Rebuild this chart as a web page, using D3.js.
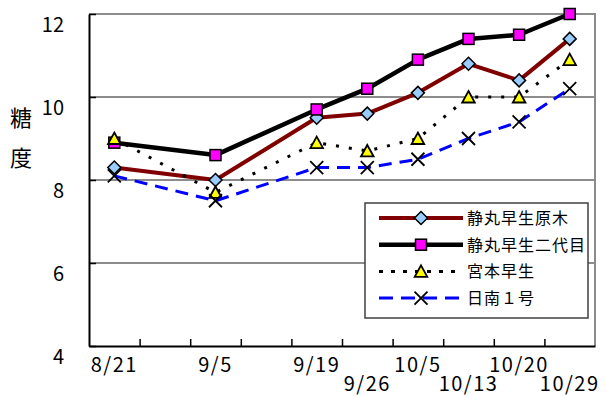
<!DOCTYPE html>
<html>
<head>
<meta charset="utf-8">
<script src="https://cdn.jsdelivr.net/npm/d3@7"></script>
<style>
  html, body { margin: 0; padding: 0; background: #fff; }
  svg { display: block; }
  text { font-family: "Noto Sans CJK JP", "Noto Sans", sans-serif; fill: #000; }
</style>
</head>
<body>
<svg id="chart" width="606" height="397"></svg>
<script>
// Sampling dates (empty slots keep the spacing of the category axis)
const slots = ["8/21", "", "9/5", "", "9/19", "9/26", "10/5", "10/13", "10/20", "10/29"];

// Sugar content (Brix) per variety
const genbokuValues  = [8.3, null, 8.0, null, 9.5, 9.6, 10.1, 10.8, 10.4, 11.4];
const nidaimeValues  = [8.9, null, 8.6, null, 9.7, 10.2, 10.9, 11.4, 11.5, 12.0];
const miyamotoValues = [9.0, null, 7.7, null, 8.9, 8.7, 9.0, 10.0, 10.0, 10.9];
const nichinanValues = [8.1, null, 7.5, null, 8.3, 8.3, 8.5, 9.0, 9.4, 10.2];

const seriesNames = ["静丸早生原木", "静丸早生二代目", "宮本早生", "日南１号"];
const yTicks = [4, 6, 8, 10, 12];
const yTitle = ["糖", "度"];

const svg = d3.select("#chart");
const plot = { left: 89, top: 14, right: 595, bottom: 346 };

const x = d3.scaleBand()
  .domain(d3.range(slots.length))
  .range([plot.left, plot.right])
  .paddingInner(0).paddingOuter(0);
const xEdge = d3.scaleLinear().domain([0, slots.length]).range([plot.left, plot.right]);
const y = d3.scaleLinear().domain([4, 12]).range([plot.bottom, plot.top]);

// Horizontal gridlines
svg.append("g")
  .selectAll("line")
  .data(yTicks.filter(v => v > 4 && v < 12))
  .join("line")
  .attr("x1", plot.left).attr("x2", plot.right)
  .attr("y1", d => y(d)).attr("y2", d => y(d))
  .attr("stroke", "#666").attr("stroke-width", 1.5);

// Top and right frame
svg.append("path")
  .attr("d", `M${plot.left},${y(12)}H${plot.right}V${plot.bottom}`)
  .attr("fill", "none").attr("stroke", "#8c8c8c").attr("stroke-width", 2);

// Y axis with inward ticks
const yAxis = svg.append("g")
  .attr("transform", `translate(${plot.left},0)`)
  .call(d3.axisLeft(y).tickValues(yTicks).tickSizeInner(-7).tickSizeOuter(0).tickPadding(25).tickFormat(d3.format("d")));
yAxis.select(".domain").attr("stroke", "#000").attr("stroke-width", 2);
yAxis.selectAll(".tick line").attr("stroke", "#000").attr("stroke-width", 1.5);
yAxis.selectAll(".tick text")
  .attr("dy", "17px")
  .style("font-size", "20px")
  .style("font-family", "'Noto Sans CJK JP', sans-serif");

// X axis: tick marks on category boundaries
const xTicks = svg.append("g")
  .attr("transform", `translate(0,${plot.bottom})`)
  .call(d3.axisBottom(xEdge).tickValues(d3.range(1, slots.length)).tickSizeInner(-7).tickSizeOuter(0).tickFormat(""));
xTicks.select(".domain").attr("stroke", "#000").attr("stroke-width", 2);
xTicks.selectAll(".tick line").attr("stroke", "#000").attr("stroke-width", 1.5);

// X axis labels, staggered on two rows
const xLabels = svg.append("g")
  .attr("transform", `translate(0,${plot.bottom})`)
  .call(d3.axisBottom(x).tickSize(0).tickPadding(0).tickFormat(i => slots[i]));
xLabels.select(".domain").remove();
xLabels.selectAll(".tick text")
  .attr("y", i => (i % 2 === 0 ? 26 : 45))
  .attr("dy", 0)
  .style("font-size", "20px")
  .style("letter-spacing", "1.5px")
  .style("font-family", "'Noto Sans CJK JP', sans-serif");

// Y axis title, stacked vertically
svg.append("g")
  .selectAll("text")
  .data(yTitle)
  .join("text")
  .attr("x", 21)
  .attr("y", (d, i) => 126 + i * 40)
  .attr("text-anchor", "middle")
  .style("font-size", "22px")
  .text(d => d);

// Series definitions
const series = [
  { name: seriesNames[0], values: genbokuValues,  color: "#800000", width: 4,   dash: null,    marker: "diamond" },
  { name: seriesNames[1], values: nidaimeValues,  color: "#000000", width: 4.5, dash: null,    marker: "square" },
  { name: seriesNames[2], values: miyamotoValues, color: "#000000", width: 3,   dash: "3,10",  marker: "triangle" },
  { name: seriesNames[3], values: nichinanValues, color: "#0000ff", width: 3,   dash: "13,8",  marker: "cross" }
];

const cx = i => x(i) + x.bandwidth() / 2;

function drawMarker(g, type) {
  if (type === "diamond") {
    g.append("path").attr("d", "M0,-6.5L6.5,0L0,6.5L-6.5,0Z")
      .attr("fill", "#99ccff").attr("stroke", "#000").attr("stroke-width", 1.5);
  } else if (type === "square") {
    g.append("rect").attr("x", -5.5).attr("y", -5.5).attr("width", 11).attr("height", 11)
      .attr("fill", "#ff00ff").attr("stroke", "#000").attr("stroke-width", 1.5);
  } else if (type === "triangle") {
    g.append("path").attr("d", "M0,-6L6.3,5.5L-6.3,5.5Z")
      .attr("fill", "#ffff00").attr("stroke", "#000").attr("stroke-width", 1.8).attr("stroke-linejoin", "miter");
  } else {
    g.append("path").attr("d", "M-6.5,-6.5L6.5,6.5M6.5,-6.5L-6.5,6.5")
      .attr("fill", "none").attr("stroke", "#000").attr("stroke-width", 1.8);
  }
}

const line = d3.line().x(d => cx(d.i)).y(d => y(d.v));

series.forEach(s => {
  const pts = s.values.map((v, i) => ({ i, v })).filter(d => d.v !== null);
  const g = svg.append("g");
  g.append("path")
    .datum(pts)
    .attr("d", line)
    .attr("fill", "none")
    .attr("stroke", s.color)
    .attr("stroke-width", s.width)
    .attr("stroke-dasharray", s.dash)
    .attr("stroke-linejoin", "round");
  pts.forEach(d => {
    const m = g.append("g").attr("transform", `translate(${cx(d.i)},${y(d.v)})`);
    drawMarker(m, s.marker);
  });
});

// Legend
const legend = svg.append("g").attr("transform", "translate(365,203)");
legend.append("rect")
  .attr("x", 0).attr("y", 0).attr("width", 223).attr("height", 115)
  .attr("fill", "#fff").attr("stroke", "#404040").attr("stroke-width", 1.5);
series.forEach((s, k) => {
  const ry = 15 + k * 26.7;
  const row = legend.append("g").attr("transform", `translate(0,${ry})`);
  row.append("line")
    .attr("x1", 14).attr("x2", 98).attr("y1", 0).attr("y2", 0)
    .attr("stroke", s.color).attr("stroke-width", s.width)
    .attr("stroke-dasharray", s.dash === "3,10" ? "4,8" : (s.dash ? "14,8" : null));
  drawMarker(row.append("g").attr("transform", "translate(56,0)"), s.marker);
  row.append("text")
    .attr("x", 102).attr("y", 6)
    .style("font-size", "16px")
    .style("letter-spacing", "1px")
    .text(s.name);
});
</script>
</body>
</html>
